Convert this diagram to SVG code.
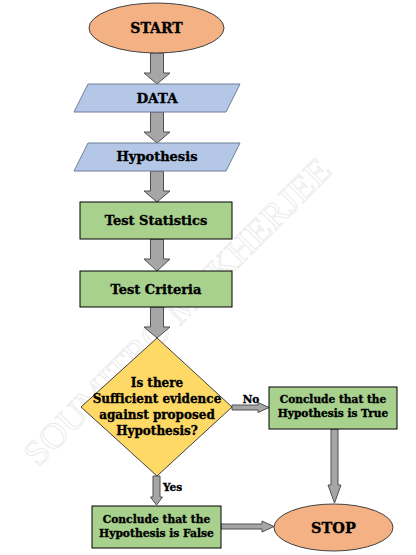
<svg xmlns="http://www.w3.org/2000/svg" width="416" height="555" viewBox="0 0 416 555">
<style>
.t{font-family:"DejaVu Serif","Liberation Serif",serif;font-weight:bold;fill:#000;stroke:#000;stroke-width:0.35;text-anchor:middle}
.term{fill:#f4b183;stroke:#404040;stroke-width:1}
.io{fill:#b4c7e7;stroke:#6f7f99;stroke-width:1}
.proc{fill:#a9d18e;stroke:#000;stroke-width:1}
.dec{fill:#ffd966;stroke:#404040;stroke-width:1}
.arr{fill:#a6a6a6;stroke:#505050;stroke-width:1}
.wm{font-family:"Liberation Serif",serif;font-size:36px;fill:none;stroke:#ebebeb;stroke-width:0.9}
</style>
<rect width="416" height="555" fill="#fff"/>
<text class="wm" transform="translate(38,468) rotate(-45)" textLength="418" lengthAdjust="spacingAndGlyphs">SOUMITRO MUKHERJEE</text>
<g id="connectors">
<path class="arr" d="M150.5,53 V73 H144 L157,84 L170,73 H163.5 V53 Z"/>
<path class="arr" d="M150.5,112 V132 H144 L157,143 L170,132 H163.5 V112 Z"/>
<path class="arr" d="M150.5,171 V191 H144 L157,202 L170,191 H163.5 V171 Z"/>
<path class="arr" d="M150.5,239 V259 H144 L157,271 L170,259 H163.5 V239 Z"/>
<path class="arr" d="M150.5,307 V327 H144 L157,338 L170,327 H163.5 V307 Z"/>
<path class="arr" d="M153,476 V497 H150.5 L156.5,505 L162.5,497 H160 V476 Z"/>
<path class="arr" d="M232,405 H258 V402.5 L269,407.5 L258,412.5 V410 H232 Z"/>
<path class="arr" d="M331,429 V485 H328 L334.5,503 L341,485 H338 V429 Z"/>
<path class="arr" d="M221,524 H262 V521 L274,526.5 L262,532 V529 H221 Z"/>
<text class="t" x="251" y="403" font-size="10.5">No</text>
<text class="t" x="172.5" y="491" font-size="10.5">Yes</text>
</g>
<g id="start">
<ellipse class="term" cx="156.5" cy="28" rx="67.5" ry="25"/>
<text class="t" x="156.5" y="33" font-size="14">START</text>
</g>
<g id="data">
<polygon class="io" points="88,84 240,84 226,112 74,112"/>
<text class="t" x="157" y="103" font-size="13.5">DATA</text>
</g>
<g id="hypothesis">
<polygon class="io" points="88,143 240,143 226,171 74,171"/>
<text class="t" x="157" y="161" font-size="13">Hypothesis</text>
</g>
<g id="test-statistics">
<rect class="proc" x="80" y="202" width="152" height="37"/>
<text class="t" x="156" y="224.5" font-size="13">Test Statistics</text>
</g>
<g id="test-criteria">
<rect class="proc" x="80" y="271" width="152" height="36"/>
<text class="t" x="156" y="293.5" font-size="13">Test Criteria</text>
</g>
<g id="decision">
<polygon class="dec" points="157,338 232,407 157,476 81,407"/>
<text class="t" x="157" y="387" font-size="12">Is there</text>
<text class="t" x="157" y="403" font-size="12">Sufficient evidence</text>
<text class="t" x="157" y="419" font-size="12">against proposed</text>
<text class="t" x="157" y="435" font-size="12">Hypothesis?</text>
</g>
<g id="conclude-true">
<rect class="proc" x="269" y="387" width="128" height="42"/>
<text class="t" x="333" y="403" font-size="10.6">Conclude that the</text>
<text class="t" x="333" y="416.5" font-size="10.6">Hypothesis is True</text>
</g>
<g id="conclude-false">
<rect class="proc" x="92" y="506" width="129" height="42"/>
<text class="t" x="156.5" y="523" font-size="10.7">Conclude that the</text>
<text class="t" x="156.5" y="536.5" font-size="10.7">Hypothesis is False</text>
</g>
<g id="stop">
<ellipse class="term" cx="333.5" cy="527.5" rx="59.5" ry="23.5"/>
<text class="t" x="333.5" y="532.5" font-size="14.5">STOP</text>
</g>
</svg>
